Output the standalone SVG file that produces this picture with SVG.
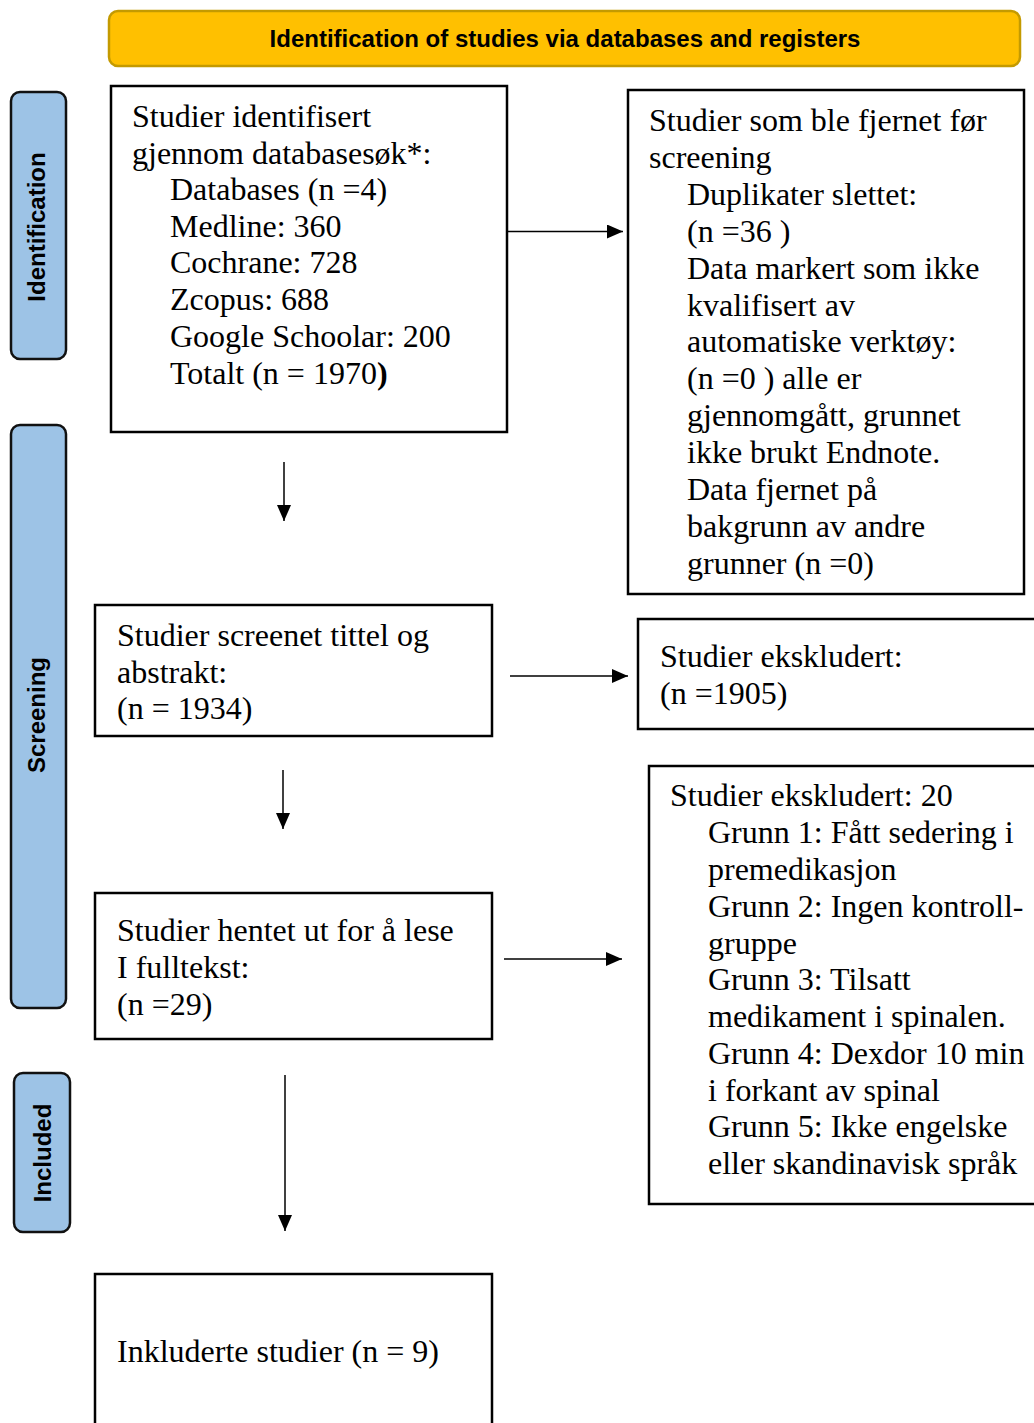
<svg xmlns="http://www.w3.org/2000/svg" width="1034" height="1423" viewBox="0 0 1034 1423">
<style>
.box{fill:#fff;stroke:#000;stroke-width:2.5}
.side{fill:#9DC3E6;stroke:#111;stroke-width:2.5}
.t{font-family:"Liberation Serif","Times New Roman",serif;font-size:32px;fill:#000}
.s{font-family:"Liberation Sans",Arial,sans-serif;font-weight:bold;font-size:24px;fill:#000}
.c{stroke:#000;stroke-width:1.5;fill:none}
</style>
<defs>
<marker id="ah" markerUnits="userSpaceOnUse" markerWidth="16" markerHeight="14" refX="16" refY="7" orient="auto">
<path d="M0,0 L16,7 L0,14 Z" fill="#000"/>
</marker>
</defs>
<g id="banner">
<rect x="109" y="11" width="911" height="55" rx="9" fill="#FFC000" stroke="#C49A00" stroke-width="2.5"/>
<text class="s" x="565" y="47" text-anchor="middle">Identification of studies via databases and registers</text>
</g>
<g id="side-identification">
<rect class="side" x="11" y="92" width="55" height="267" rx="9"/>
<text class="s" transform="translate(45,227) rotate(-90)" text-anchor="middle">Identification</text>
</g>
<g id="side-screening">
<rect class="side" x="11" y="425" width="55" height="583" rx="9"/>
<text class="s" transform="translate(45,715) rotate(-90)" text-anchor="middle">Screening</text>
</g>
<g id="side-included">
<rect class="side" x="14" y="1073" width="56" height="159" rx="9"/>
<text class="s" transform="translate(51,1153) rotate(-90)" text-anchor="middle">Included</text>
</g>
<g id="identified">
<rect class="box" x="111" y="86" width="396" height="346"/>
<text class="t" x="132" y="127">Studier identifisert</text>
<text class="t" x="132" y="164">gjennom databasesøk*:</text>
<text class="t" x="170" y="200">Databases (n =4)</text>
<text class="t" x="170" y="237">Medline: 360</text>
<text class="t" x="170" y="273">Cochrane: 728</text>
<text class="t" x="170" y="310">Zcopus: 688</text>
<text class="t" x="170" y="347">Google Schoolar: 200</text>
<text class="t" x="170" y="384">Totalt (n = 1970<tspan font-weight="bold">)</tspan></text>
</g>
<g id="removed">
<rect class="box" x="628" y="90" width="396" height="504"/>
<text class="t" x="649" y="131">Studier som ble fjernet før</text>
<text class="t" x="649" y="168">screening</text>
<text class="t" x="687" y="205">Duplikater slettet:</text>
<text class="t" x="687" y="242">(n =36 )</text>
<text class="t" x="687" y="279">Data markert som ikke</text>
<text class="t" x="687" y="316">kvalifisert av</text>
<text class="t" x="687" y="352">automatiske verktøy:</text>
<text class="t" x="687" y="389">(n =0 ) alle er</text>
<text class="t" x="687" y="426">gjennomgått, grunnet</text>
<text class="t" x="687" y="463">ikke brukt Endnote.</text>
<text class="t" x="687" y="500">Data fjernet på</text>
<text class="t" x="687" y="537">bakgrunn av andre</text>
<text class="t" x="687" y="574">grunner (n =0)</text>
</g>
<g id="screened">
<rect class="box" x="95" y="605" width="397" height="131"/>
<text class="t" x="117" y="646">Studier screenet tittel og</text>
<text class="t" x="117" y="683">abstrakt:</text>
<text class="t" x="117" y="719">(n = 1934)</text>
</g>
<g id="excluded1">
<rect class="box" x="638" y="619" width="410" height="110"/>
<text class="t" x="660" y="667">Studier ekskludert:</text>
<text class="t" x="660" y="704">(n =1905)</text>
</g>
<g id="retrieved">
<rect class="box" x="95" y="893" width="397" height="146"/>
<text class="t" x="117" y="941">Studier hentet ut for å lese</text>
<text class="t" x="117" y="978">I fulltekst:</text>
<text class="t" x="117" y="1015">(n =29)</text>
</g>
<g id="excluded2">
<rect class="box" x="649" y="766" width="400" height="438"/>
<text class="t" x="670" y="806">Studier ekskludert: 20</text>
<text class="t" x="708" y="843">Grunn 1: Fått sedering i</text>
<text class="t" x="708" y="880">premedikasjon</text>
<text class="t" x="708" y="917">Grunn 2: Ingen kontroll-</text>
<text class="t" x="708" y="954">gruppe</text>
<text class="t" x="708" y="990">Grunn 3: Tilsatt</text>
<text class="t" x="708" y="1027">medikament i spinalen.</text>
<text class="t" x="708" y="1064">Grunn 4: Dexdor 10 min</text>
<text class="t" x="708" y="1101">i forkant av spinal</text>
<text class="t" x="708" y="1137">Grunn 5: Ikke engelske</text>
<text class="t" x="708" y="1174">eller skandinavisk språk</text>
</g>
<g id="included">
<rect class="box" x="95" y="1274" width="397" height="160"/>
<text class="t" x="117" y="1362">Inkluderte studier (n = 9)</text>
</g>
<g id="connectors">
<line class="c" x1="507" y1="231.5" x2="623" y2="231.5" marker-end="url(#ah)"/>
<line class="c" x1="284" y1="462" x2="284" y2="521" marker-end="url(#ah)"/>
<line class="c" x1="510" y1="676" x2="628" y2="676" marker-end="url(#ah)"/>
<line class="c" x1="283" y1="770" x2="283" y2="829" marker-end="url(#ah)"/>
<line class="c" x1="504" y1="959" x2="622" y2="959" marker-end="url(#ah)"/>
<line class="c" x1="285" y1="1075" x2="285" y2="1231" marker-end="url(#ah)"/>
</g>
</svg>
